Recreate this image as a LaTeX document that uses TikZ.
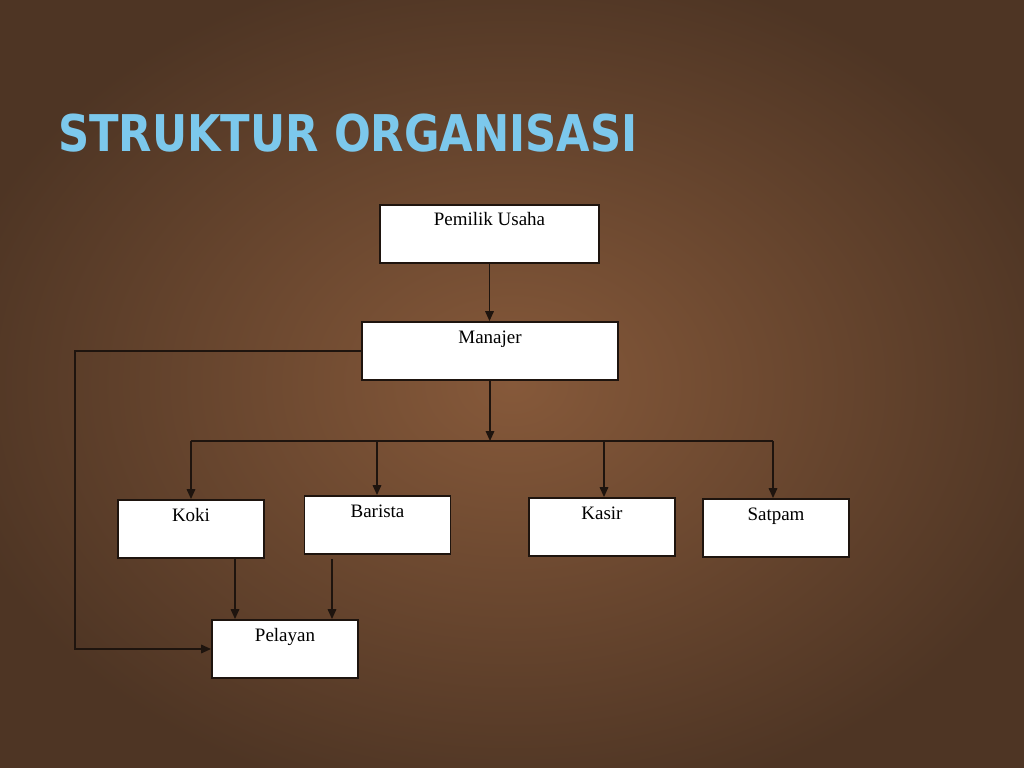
\documentclass[tikz,border=0pt]{standalone}
\usepackage{fontspec}
\setmainfont{Liberation Serif}
\newfontfamily\titlefont{DejaVu Sans}
\usetikzlibrary{arrows.meta,positioning,calc}
\definecolor{bark}{HTML}{86593A}
\definecolor{barkdark}{HTML}{4E3524}
\definecolor{ice}{HTML}{7CC8EC}
\definecolor{ink}{HTML}{1E140E}

\tikzset{
  box/.style={draw=ink,line width=1.3pt,fill=white,minimum height=1.45cm,
    inner ysep=0.15cm,text height=0.375cm,text depth=0.775cm,
    font=\fontsize{13.5}{15}\selectfont,anchor=center},
  arr/.style={draw=ink,line width=1.2pt,-{Triangle[length=7pt,width=6pt]}},
  link/.style={draw=ink,line width=1.2pt}
}

\begin{document}
\begin{tikzpicture}[x=0.025cm,y=-0.025cm]
  \useasboundingbox (0,0) rectangle (1024,768);
  \fill[bark] (0,0) rectangle (1024,768);
  \shade[inner color=bark,outer color=barkdark] (-60,-45) rectangle (1084,813);
  % title
  \node[anchor=base west,inner sep=0,text=ice,font=\titlefont\bfseries\fontsize{36}{40}\selectfont] (title) at (58,152)
    {\scalebox{0.855}[1]{STRUKTUR ORGANISASI}};
  % boxes
  \node[box,minimum width=5.475cm] (pemilik) at (489.5,234) {Pemilik Usaha};
  \node[box,minimum width=6.4cm] (manajer) at (490,351) {Manajer};
  \node[box,minimum width=3.65cm] (koki) at (191,529) {Koki};
  \node[box,minimum width=3.65cm] (barista) at (377.5,525) {Barista};
  \node[box,minimum width=3.65cm] (kasir) at (602,527) {Kasir};
  \node[box,minimum width=3.65cm] (satpam) at (776,528) {Satpam};
  \node[box,minimum width=3.65cm] (pelayan) at (285,649) {Pelayan};
  % bus
  \coordinate (bus) at (490,441);
  \coordinate (busL) at (191,441);
  \coordinate (busB) at (377,441);
  \coordinate (busK) at (604,441);
  \coordinate (busR) at (773,441);
  \draw[arr] (pemilik.south) -- (pemilik.south |- manajer.north);
  \draw[arr] (manajer.south) -- (bus);
  \draw[link] (busL) -- (busR);
  \draw[arr] (busL) -- (busL |- koki.north);
  \draw[arr] (busB) -- (busB |- barista.north);
  \draw[arr] (busK) -- (busK |- kasir.north);
  \draw[arr] (busR) -- (busR |- satpam.north);
  % to pelayan
  \coordinate (kokiOut) at ($(koki.south)+(44,0)$);
  \coordinate (baristaOut) at ($(barista.south)+(-45.5,4)$);
  \draw[arr] (kokiOut) -- (kokiOut |- pelayan.north);
  \draw[arr] (baristaOut) -- (baristaOut |- pelayan.north);
  \draw[arr] (manajer.west) -- ++(-286,0) |- (pelayan.west);
\end{tikzpicture}
\end{document}
